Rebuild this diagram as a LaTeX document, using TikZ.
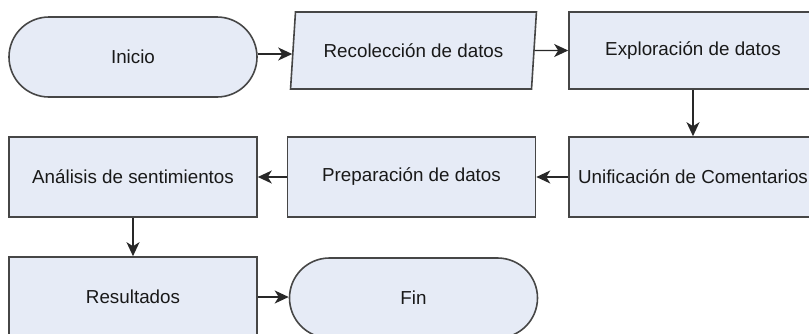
\documentclass[tikz,border=0pt]{standalone}
\usepackage{fontspec}
\setmainfont{Liberation Sans}
\usepackage{xcolor}
\definecolor{fcfill}{RGB}{230,235,246}
\definecolor{fcdraw}{RGB}{70,70,70}
\definecolor{fctext}{RGB}{25,25,25}
\definecolor{fcline}{RGB}{40,40,40}
\usepackage{tikz}
\usetikzlibrary{arrows.meta, positioning, shapes.geometric}

\tikzset{
  procbox/.style={draw=fcdraw, fill=fcfill, line width=0.8pt, minimum width=124pt,
    minimum height=40pt, inner sep=0pt, text=fctext, font=\fontsize{9.4}{11}\selectfont},
  termbox/.style={procbox, rounded corners=20pt},
  iobox/.style={procbox, trapezium, trapezium left angle=75, trapezium right angle=105,
    trapezium stretches=true, minimum height=38.5pt},
  flow/.style={-{Stealth[length=7pt, width=6.5pt, inset=2pt]}, line width=0.7pt, fcline}
}

\begin{document}
\begin{tikzpicture}[x=0.5pt, y=-0.5pt]
  \useasboundingbox (0,0) rectangle (809,333);

  % First row
  \node[termbox] (inicio) at (133,57) {Inicio};
  \node[iobox] (recoleccion) at (413.5,50.5) {Recolección de datos};
  \node[procbox, minimum height=38.5pt] (exploracion) at (693,50.5) {Exploración de datos};

  % Second row
  \node[procbox] (unificacion) at (693,177) {Unificación de Comentarios};
  \node[procbox] (preparacion) at (411.5,177) {Preparación de datos};
  \node[procbox] (analisis) at (133,177) {Análisis de sentimientos};

  % Third row
  \node[procbox] (resultados) at (133,297) {Resultados};
  \node[termbox] (fin) at (413.5,298) {Fin};

  % Connectors
  \draw[flow] ([yshift=1.5pt]inicio.east) -- ([yshift=1.5pt]inicio.east -| recoleccion.west);
  \draw[flow] (recoleccion.east) -- (exploracion.west);
  \draw[flow] (exploracion.south) -- (unificacion.north);
  \draw[flow] (unificacion.west) -- (preparacion.east);
  \draw[flow] (preparacion.west) -- (analisis.east);
  \draw[flow] (analisis.south) -- (resultados.north);
  \draw[flow] (resultados.east) -- (resultados.east -| fin.west);
\end{tikzpicture}
\end{document}
